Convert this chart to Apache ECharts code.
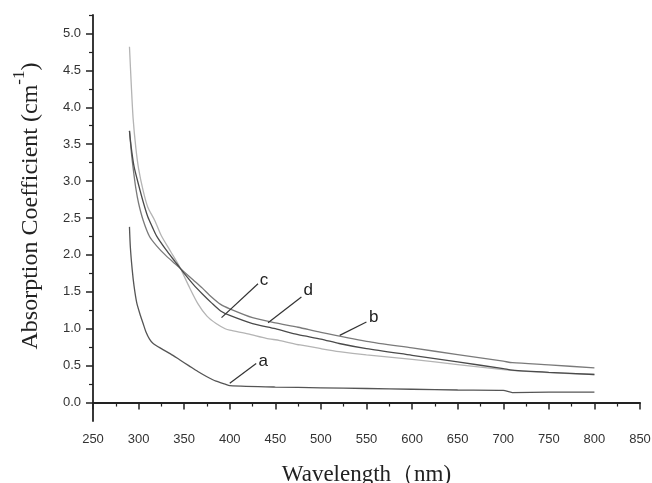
<!DOCTYPE html>
<html>
<head>
<meta charset="utf-8">
<script src="https://cdn.jsdelivr.net/npm/echarts@6/dist/echarts.min.js"></script>
<style>
  html, body { margin: 0; padding: 0; background: #fff; }
  #chart { width: 652px; height: 483px; }
</style>
</head>
<body>
<div id="chart"></div>
<script>
// wavelength (nm) and absorption coefficient (cm-1)
var aX = [290, 291, 293, 295, 298, 302, 305, 308, 312, 316, 325, 335, 345, 355, 365, 375, 385, 395, 400, 450, 500, 550, 600, 650, 700, 710, 750, 800];
var aY = [2.38, 2.1, 1.8, 1.58, 1.35, 1.18, 1.07, 0.96, 0.86, 0.8, 0.73, 0.66, 0.58, 0.5, 0.42, 0.35, 0.29, 0.25, 0.23, 0.21, 0.2, 0.19, 0.18, 0.17, 0.165, 0.135, 0.14, 0.14];

var bX = [290, 292, 294, 297, 300, 305, 312, 320, 330, 340, 350, 360, 370, 380, 390, 400, 425, 450, 475, 500, 550, 600, 650, 700, 710, 750, 800];
var bY = [3.68, 3.4, 3.18, 2.9, 2.7, 2.47, 2.25, 2.12, 1.99, 1.88, 1.77, 1.66, 1.55, 1.43, 1.33, 1.27, 1.15, 1.08, 1.02, 0.95, 0.83, 0.74, 0.65, 0.56, 0.54, 0.51, 0.47];

var cX = [290, 292, 294, 297, 300, 305, 310, 318, 325, 335, 345, 355, 365, 375, 385, 395, 400, 420, 440, 455, 477, 500, 520, 550, 600, 650, 700, 720, 750, 800];
var cY = [4.82, 4.3, 3.85, 3.45, 3.17, 2.87, 2.65, 2.46, 2.26, 2.05, 1.84, 1.58, 1.34, 1.17, 1.07, 1.0, 0.98, 0.93, 0.87, 0.84, 0.78, 0.73, 0.69, 0.645, 0.585, 0.515, 0.445, 0.425, 0.405, 0.38];

var dX = [290, 292, 295, 300, 305, 310, 315, 320, 330, 340, 345, 350, 360, 370, 380, 390, 400, 425, 450, 475, 500, 520, 550, 600, 650, 700, 710, 750, 800];
var dY = [3.68, 3.45, 3.2, 2.95, 2.72, 2.52, 2.38, 2.25, 2.07, 1.91, 1.83, 1.75, 1.6, 1.47, 1.35, 1.24, 1.18, 1.07, 1.0, 0.92, 0.86, 0.8, 0.73, 0.64, 0.55, 0.46, 0.44, 0.41, 0.38];

// annotation leaders: [from point, to point, letter position]
var aNote = [[400, 0.26], [429, 0.53], [436.6, 0.56]];
var bNote = [[520.6, 0.91], [549.9, 1.09], [558, 1.15]];
var cNote = [[391, 1.15], [431, 1.61], [437.5, 1.65]];
var dNote = [[442, 1.08], [478.6, 1.43], [486, 1.52]];

var yMajor = [0, 0.5, 1, 1.5, 2, 2.5, 3, 3.5, 4, 4.5, 5];
var yMinor = [0.25, 0.75, 1.25, 1.75, 2.25, 2.75, 3.25, 3.75, 4.25, 4.75, 5.25];

function pairs(xs, ys) {
    var out = [];
    for (var i = 0; i < xs.length; i++) out.push([xs[i], ys[i]]);
    return out;
}

function makeSeries(name, xs, ys, color, note) {
    return {
        name: name,
        type: 'line',
        data: pairs(xs, ys),
        showSymbol: false,
        smooth: 0.25,
        lineStyle: { color: color, width: 1.3 },
        itemStyle: { color: color },
        markLine: {
            silent: true,
            symbol: 'none',
            label: { show: false },
            lineStyle: { color: '#333', width: 1.2, type: 'solid' },
            data: [[{ coord: note[0] }, { coord: note[1] }]]
        },
        markPoint: {
            silent: true,
            symbol: 'circle',
            symbolSize: 1,
            itemStyle: { color: 'rgba(0,0,0,0)' },
            label: {
                show: true,
                position: 'inside',
                formatter: name,
                color: '#222',
                fontSize: 17,
                fontFamily: 'Liberation Sans'
            },
            data: [{ coord: note[2] }]
        }
    };
}

var chart = echarts.init(document.getElementById('chart'));
var option = {
    animation: false,
    backgroundColor: '#fff',
    grid: { left: 93, right: 12, top: 15, bottom: 62, outerBoundsMode: 'none' },
    xAxis: {
        type: 'value',
        min: 250,
        max: 850,
        interval: 50,
        name: 'Wavelength（nm)',
        nameLocation: 'middle',
        nameGap: 42,
        nameTextStyle: { fontFamily: 'Liberation Serif', fontSize: 23, color: '#222' },
        axisLine: { lineStyle: { color: '#222', width: 1.8 } },
        axisTick: { length: 7, lineStyle: { color: '#222', width: 1.5 } },
        minorTick: { show: true, splitNumber: 2, length: 4, lineStyle: { color: '#222', width: 1.2 } },
        axisLabel: { margin: 12, fontFamily: 'Liberation Sans', fontSize: 13, color: '#333' },
        splitLine: { show: false }
    },
    yAxis: [{
        type: 'value',
        min: -0.25,
        max: 5.25,
        name: '{m|Absorption Coefficient (cm}{s|-1}{m|)}',
        nameLocation: 'middle',
        nameGap: 50,
        nameTextStyle: {
            padding: [0, 0, 0, 24],
            rich: {
                m: { fontFamily: 'Liberation Serif', fontSize: 24, color: '#222', verticalAlign: 'bottom', lineHeight: 32 },
                s: { fontFamily: 'Liberation Serif', fontSize: 17, color: '#222', verticalAlign: 'top', lineHeight: 32 }
            }
        },
        axisLine: { show: true, lineStyle: { color: '#222', width: 1.8 } },
        axisTick: { show: true, length: 7, customValues: yMajor, lineStyle: { color: '#222', width: 1.5 } },
        axisLabel: {
            margin: 12,
            customValues: yMajor,
            fontFamily: 'Liberation Sans',
            fontSize: 13,
            color: '#333',
            formatter: function (v) { return v.toFixed(1); }
        },
        splitLine: { show: false }
    }, {
        type: 'value',
        position: 'left',
        min: -0.25,
        max: 5.25,
        axisLine: { show: false },
        axisTick: { show: true, length: 4, customValues: yMinor, lineStyle: { color: '#222', width: 1.2 } },
        axisLabel: { show: false },
        splitLine: { show: false }
    }],
    series: [
        makeSeries('a', aX, aY, '#555', aNote),
        makeSeries('b', bX, bY, '#7a7a7a', bNote),
        makeSeries('c', cX, cY, '#b4b4b4', cNote),
        makeSeries('d', dX, dY, '#4a4a4a', dNote)
    ]
};
chart.setOption(option);
</script>
</body>
</html>
